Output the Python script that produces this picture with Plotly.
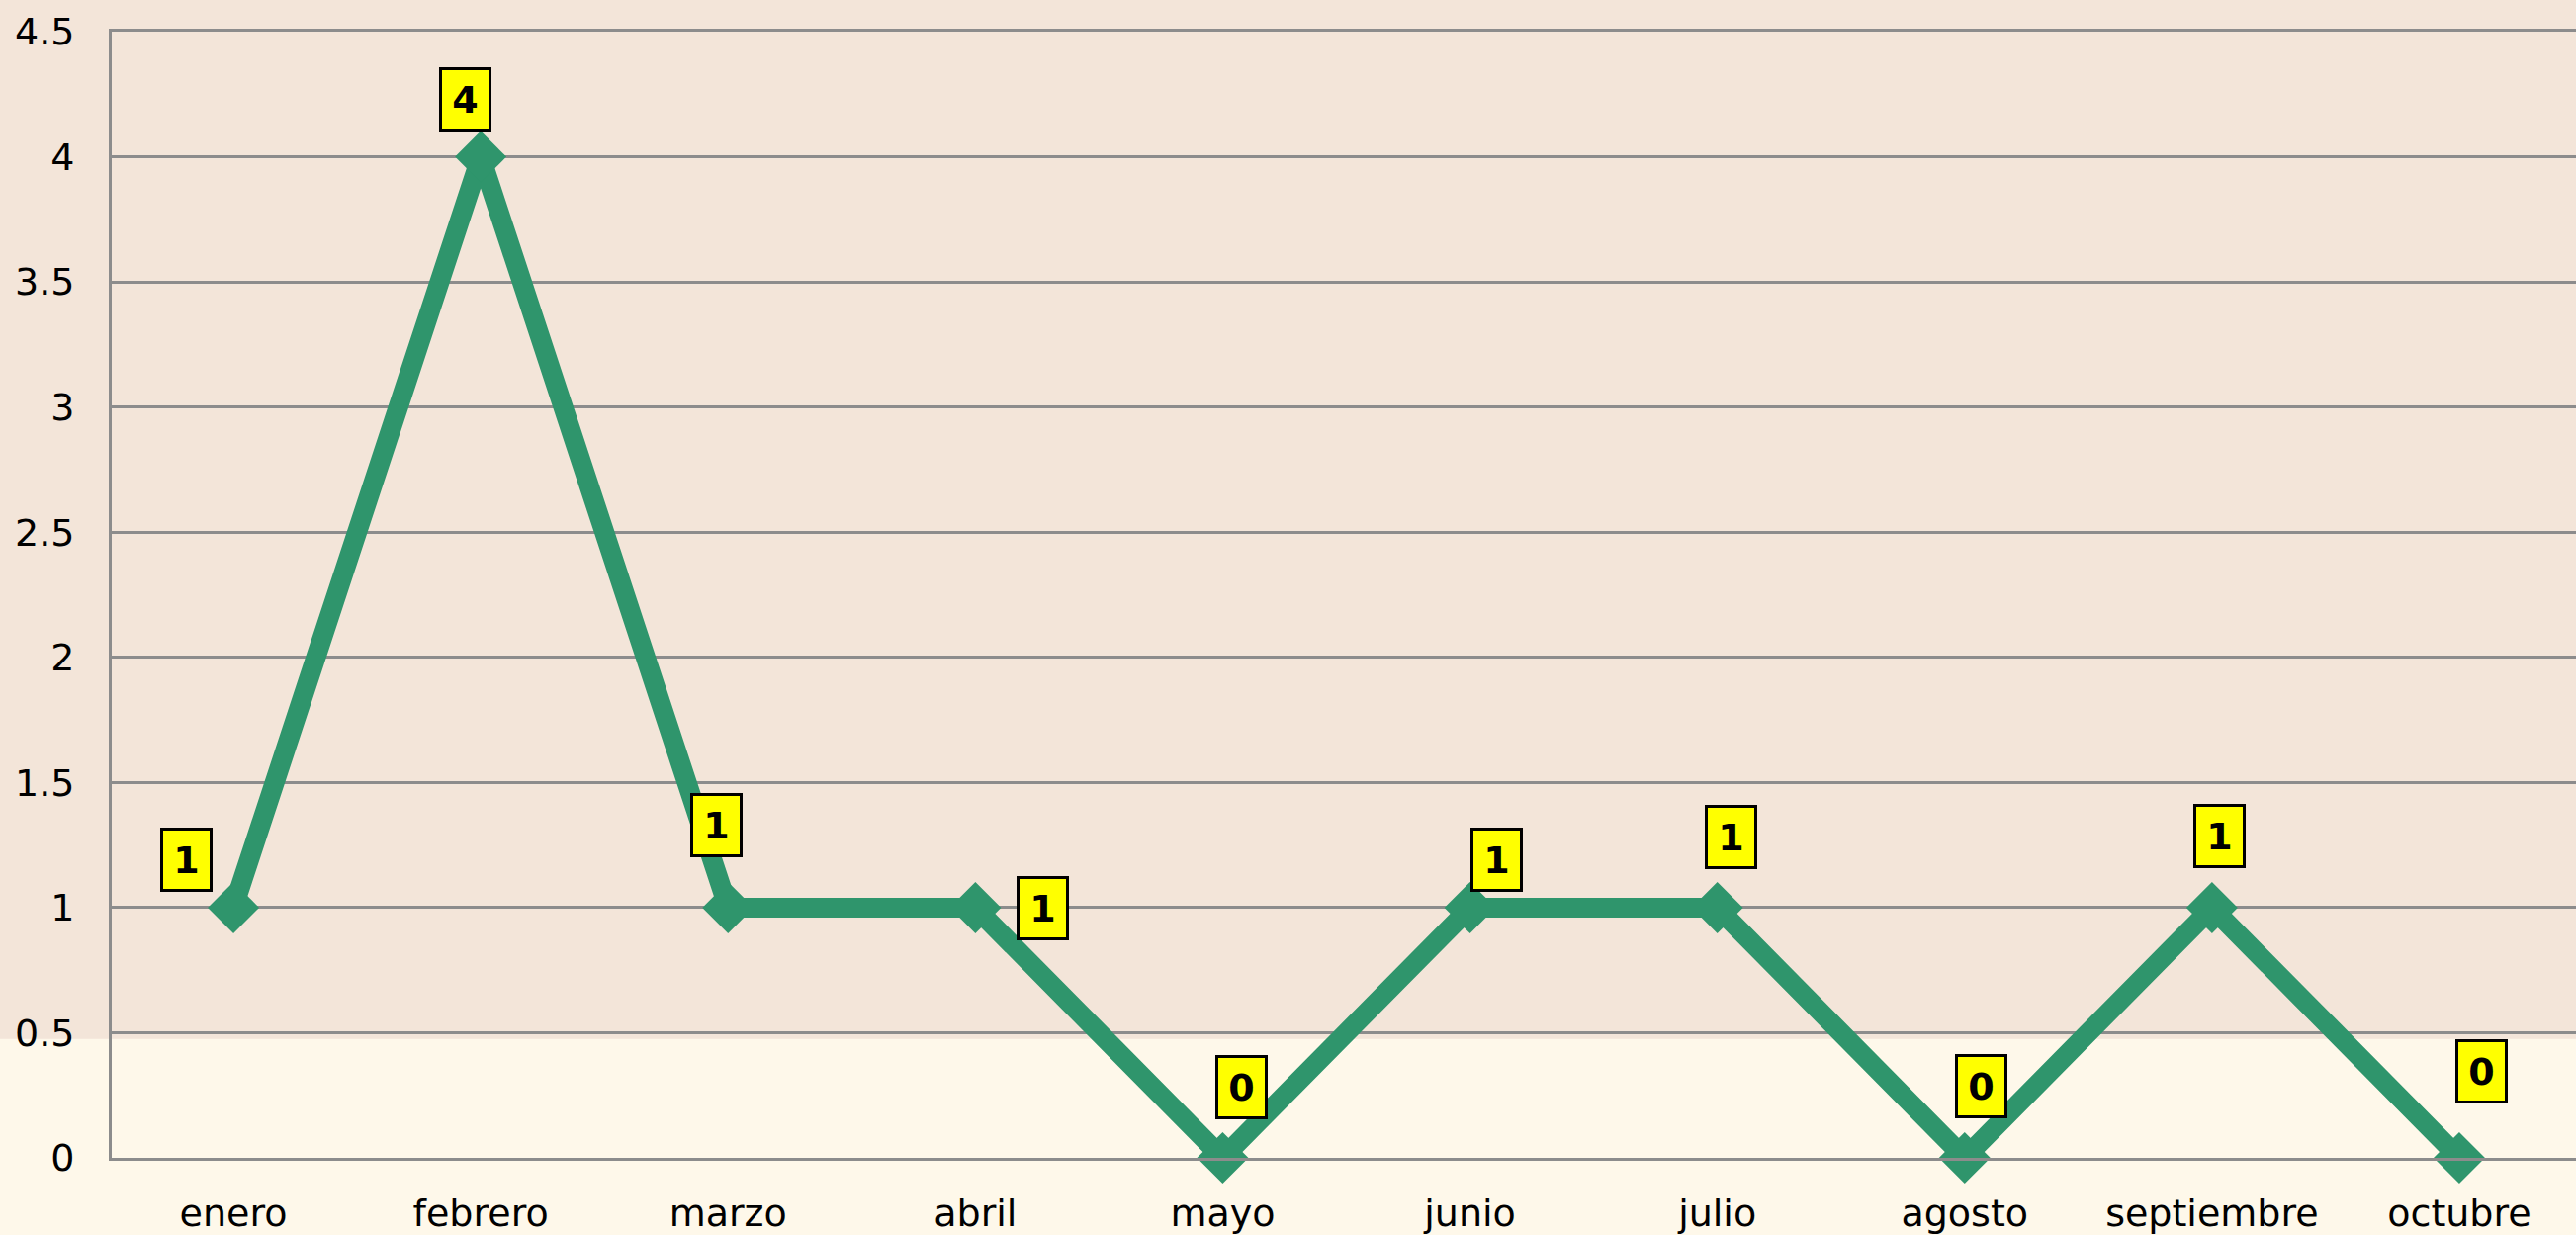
import plotly.graph_objects as go

months = ["enero", "febrero", "marzo", "abril", "mayo", "junio",
          "julio", "agosto", "septiembre", "octubre"]
values = [1, 4, 1, 1, 0, 1, 1, 0, 1, 0]
y_ticks = [0, 0.5, 1, 1.5, 2, 2.5, 3, 3.5, 4, 4.5]
y_tick_text = ["0", "0.5", "1", "1.5", "2", "2.5", "3", "3.5", "4", "4.5"]

# pixel offsets of each data label box relative to its point
label_dx = [-48, -16, -12, 68, 19, 27, 14, 17, 8, 23]
label_dy = [48, 58, 83, -1, 72, 48, 71, 73, 72, 88]

GREEN = "#2F956C"
GRID = "#8C8C8C"
PINK = "#F3E5D9"
CREAM = "#FEF8EA"
FONT = "DejaVu Sans"

fig = go.Figure()
fig.add_trace(go.Scatter(
    x=months, y=values, mode="lines+markers",
    line=dict(color=GREEN, width=20),
    marker=dict(symbol="diamond", size=40, color=GREEN, line=dict(width=0)),
    cliponaxis=False, hoverinfo="skip", showlegend=False,
))

for m, v, dx, dy in zip(months, values, label_dx, label_dy):
    fig.add_annotation(
        x=m, y=v, text=f"<b>{v}</b>", showarrow=False,
        xshift=dx, yshift=dy,
        font=dict(family=FONT, size=38, color="black"),
        bgcolor="#FFFF00", bordercolor="black", borderwidth=3, borderpad=4,
        width=39, height=51,
    )

# two-tone background
fig.add_shape(type="rect", xref="paper", yref="paper",
              x0=-1, x1=2, y0=-1, y1=0.1055,
              fillcolor=CREAM, line=dict(width=0), layer="below")

fig.update_layout(
    width=2605, height=1249,
    margin=dict(l=113, r=0, t=32, b=70),
    paper_bgcolor=PINK, plot_bgcolor="rgba(0,0,0,0)",
    font=dict(family=FONT, size=38, color="black"),
)
fig.update_xaxes(
    type="category", range=[-0.492, 9.472],
    showgrid=False, showline=True, mirror=True,
    linecolor=GRID, linewidth=3, ticks="",
    ticklabelstandoff=20, zeroline=False,
)
fig.update_yaxes(
    range=[0, 4.5], tickvals=y_ticks, ticktext=y_tick_text,
    showgrid=True, gridcolor=GRID, gridwidth=3,
    showline=True, linecolor=GRID, linewidth=3, ticks="",
    ticklabelstandoff=27, zeroline=False,
)

fig.write_html("out.html", config={"displayModeBar": False},
               post_script="document.body.style.margin='0';")
